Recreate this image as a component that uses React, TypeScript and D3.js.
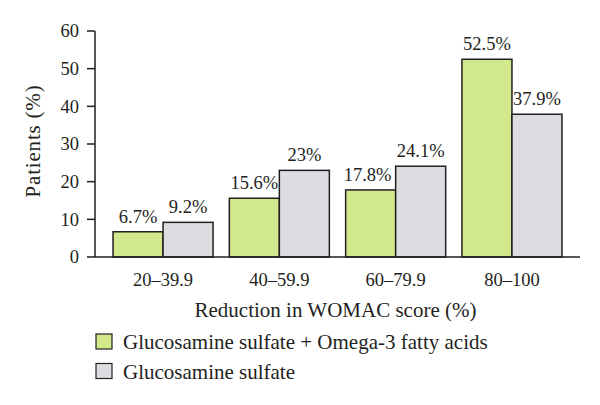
import React from "react";
import * as d3 from "d3";

const categories = ["20–39.9", "40–59.9", "60–79.9", "80–100"];
const seriesNames = ["Glucosamine sulfate + Omega-3 fatty acids", "Glucosamine sulfate"];
const comboValues = [6.7, 15.6, 17.8, 52.5];
const gsValues = [9.2, 23, 24.1, 37.9];
const comboLabels = ["6.7%", "15.6%", "17.8%", "52.5%"];
const gsLabels = ["9.2%", "23%", "24.1%", "37.9%"];
const yTicks = [0, 10, 20, 30, 40, 50, 60];
const colors = ["#d2e88c", "#dcdde1"];

const FONT = "'Liberation Serif', 'DejaVu Serif', serif";
const INK = "#231f20";

export default function App() {
  const width = 600, height = 405;
  const left = 95, right = 580, top = 31, bottom = 257;
  const x = d3.scaleBand().domain(categories).range([left, right]).paddingInner(0.14).paddingOuter(0.155);
  const sub = d3.scaleBand().domain(["0", "1"]).range([0, x.bandwidth()]);
  const y = d3.scaleLinear().domain([0, 60]).range([bottom, top]);
  const series = [comboValues, gsValues];
  const labels = [comboLabels, gsLabels];

  return (
    <svg width={width} height={height} style={{ position: "absolute", left: 0, top: 0, background: "#fff" }} fontFamily={FONT}>
      {series.map((vals, s) =>
        vals.map((v, i) => (
          <rect key={`b${s}-${i}`} x={(x(categories[i]) as number) + (sub(String(s)) as number)} y={y(v)}
            width={sub.bandwidth()} height={y(0) - y(v)} fill={colors[s]} stroke={INK} strokeWidth={1.5} />
        ))
      )}
      {series.map((vals, s) =>
        vals.map((v, i) => (
          <text key={`l${s}-${i}`} x={(x(categories[i]) as number) + (sub(String(s)) as number) + sub.bandwidth() / 2 - (s === 0 && i === 2 ? 3 : 0)}
            y={y(v) - 9} textAnchor="middle" fontSize={18.5} fill={INK}>{labels[s][i]}</text>
        ))
      )}
      <line x1={left} x2={left} y1={top} y2={bottom} stroke={INK} strokeWidth={1.5} />
      <line x1={left} x2={right} y1={bottom} y2={bottom} stroke={INK} strokeWidth={1.5} />
      {yTicks.map(t => (
        <g key={t}>
          <line x1={left - 8} x2={left} y1={y(t)} y2={y(t)} stroke={INK} strokeWidth={1.5} />
          <text x={left - 16} y={y(t)} dy="0.35em" textAnchor="end" fontSize={18.5} fill={INK}>{t}</text>
        </g>
      ))}
      {categories.map(c => (
        <text key={c} x={(x(c) as number) + x.bandwidth() / 2} y={bottom + 29} textAnchor="middle" fontSize={18.5} fill={INK}>{c}</text>
      ))}
      <text x={(left + right) / 2 - 2} y={bottom + 60} textAnchor="middle" fontSize={21} fill={INK}>Reduction in WOMAC score (%)</text>
      <text transform={`translate(40,${(top + bottom) / 2 - 3}) rotate(-90)`} textAnchor="middle" fontSize={21} letterSpacing={0.8} fill={INK}>Patients (%)</text>
      {seriesNames.map((n, i) => (
        <g key={n}>
          <rect x={96} y={334 + i * 29.5} width={16} height={15} fill={colors[i]} stroke={INK} strokeWidth={1.2} />
          <text x={123} y={349 + i * 30} fontSize={21} fill={INK}>{n}</text>
        </g>
      ))}
    </svg>
  );
}
